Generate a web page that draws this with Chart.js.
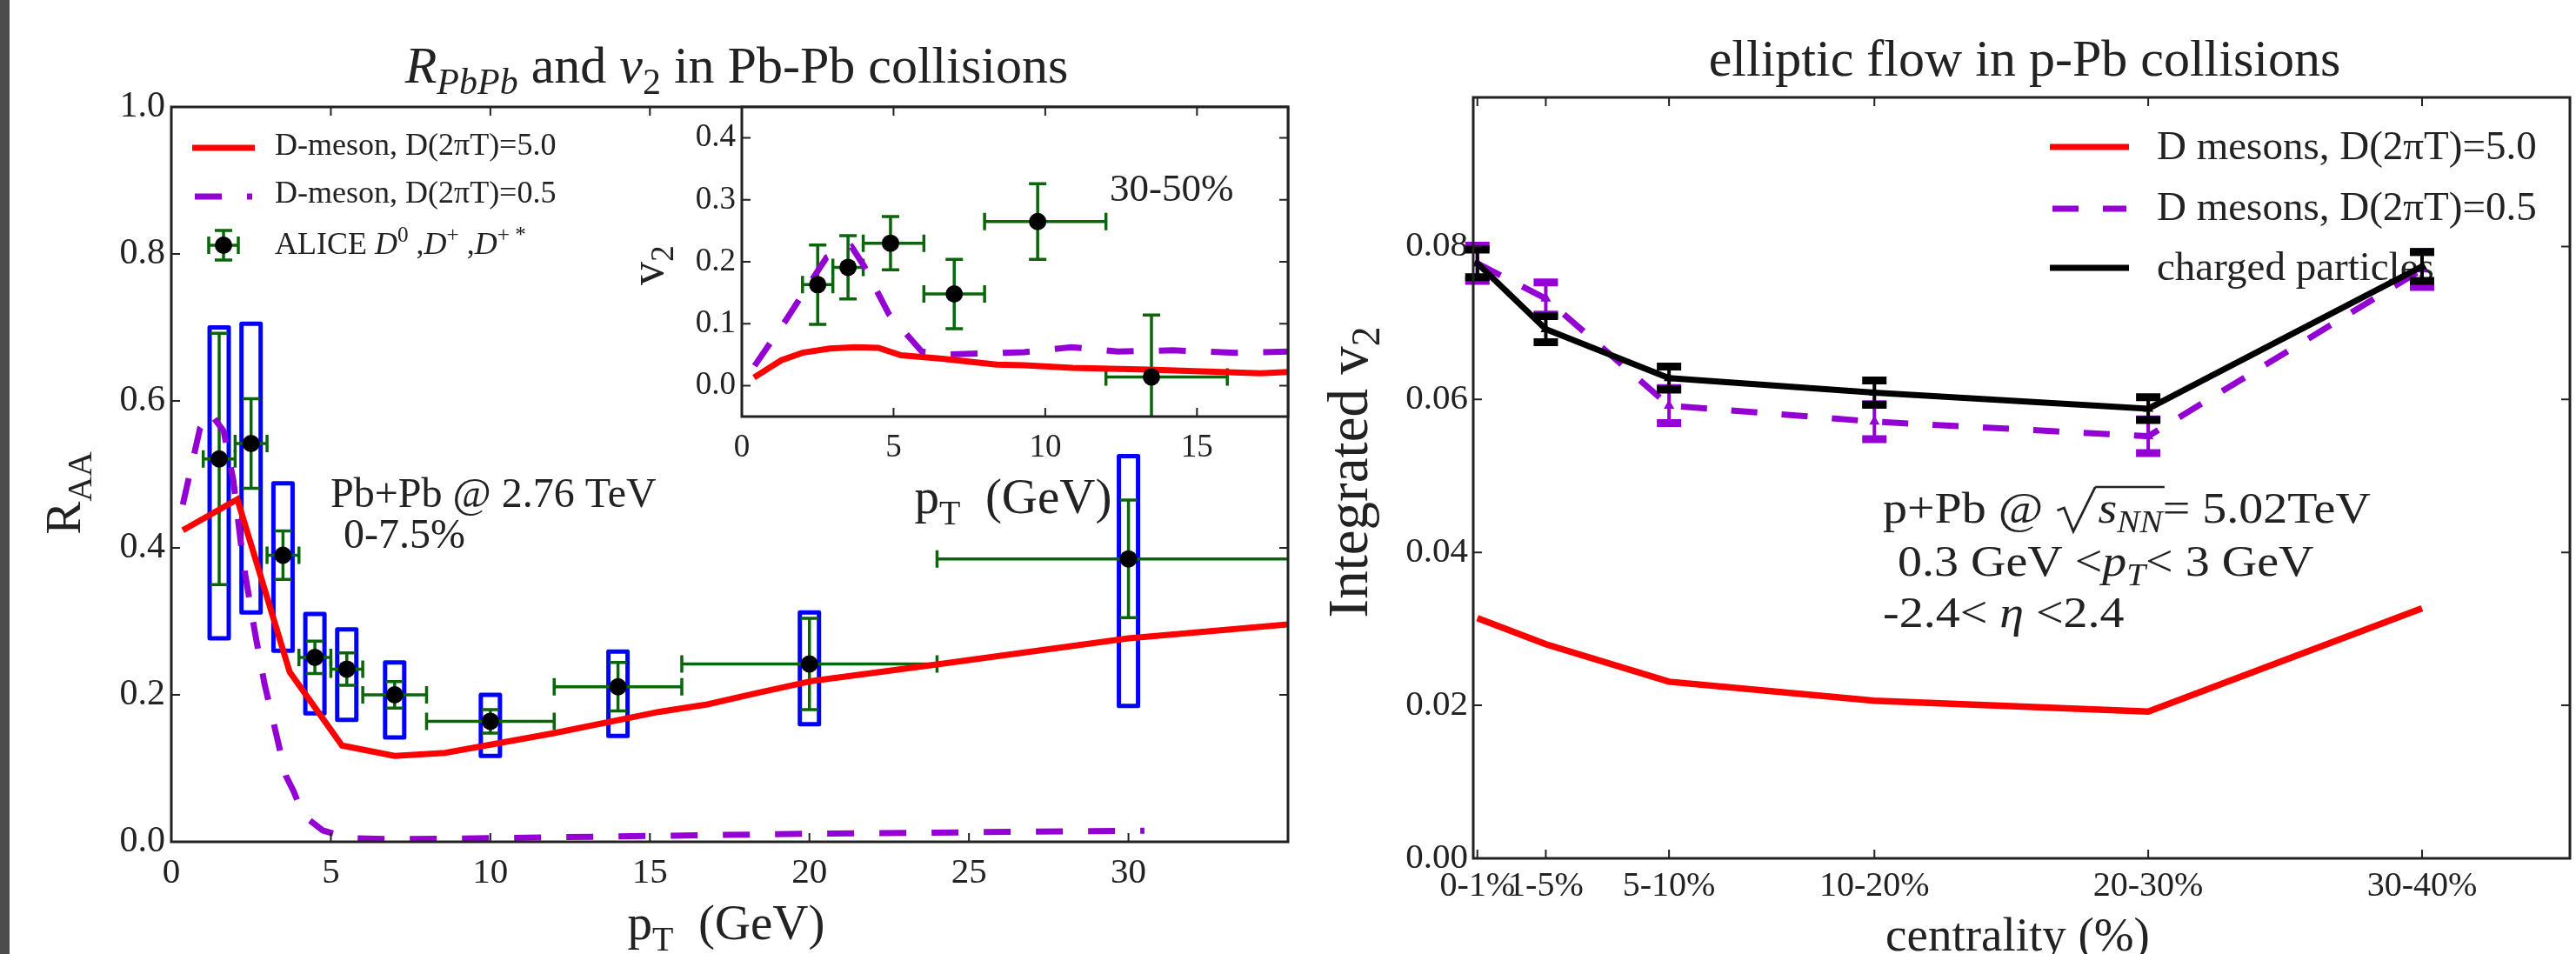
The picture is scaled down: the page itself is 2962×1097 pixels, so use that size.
<!DOCTYPE html>
<html>
<head>
<meta charset="utf-8">
<script src="https://cdn.jsdelivr.net/npm/chart.js@4.4.0/dist/chart.umd.min.js"></script>
<style>
  body { margin: 0; background: #fff; width: 2962px; height: 1097px; overflow: hidden; position: relative; }
  #edge { position: absolute; left: 0; top: 0; width: 11px; height: 1097px; background: #4b4b4e; }
  canvas { position: absolute; }
</style>
</head>
<body>
<div id="edge"></div>
<canvas id="raa" width="1540" height="1097" style="left:0px;top:0px"></canvas>
<canvas id="v2in" width="800" height="620" style="left:700px;top:0px"></canvas>
<canvas id="ppb" width="1462" height="1097" style="left:1500px;top:0px"></canvas>
<script>
// ---- left panel: R_AA in Pb-Pb, 0-7.5% ----
var raaTicksX = [0, 5, 10, 15, 20, 25, 30];
var raaTicksY = [0, 0.2, 0.4, 0.6, 0.8, 1.0];
var raaD5x = [0.36, 2.07, 3.71, 5.35, 7.0, 8.58, 12.0, 15.3, 16.8, 18.3, 20.1, 24.0, 26.8, 30.0, 33.2, 35.0];
var raaD5y = [0.424, 0.466, 0.231, 0.131, 0.117, 0.121, 0.148, 0.177, 0.187, 0.202, 0.219, 0.2415, 0.258, 0.277, 0.289, 0.296];
var raaD05x = [0.36, 0.9, 1.21, 1.64, 1.94, 2.25, 2.62, 2.92, 3.28, 3.59, 3.83, 4.14, 4.75, 5.6, 7.0, 10, 15, 20, 25, 30.5];
var raaD05y = [0.459, 0.563, 0.584, 0.559, 0.493, 0.381, 0.285, 0.215, 0.148, 0.090, 0.069, 0.036, 0.0154, 0.005, 0.0035, 0.005, 0.008, 0.011, 0.013, 0.015];
var aliceRaaPt = [1.5, 2.5, 3.5, 4.5, 5.5, 7, 10, 14, 20, 30];
var aliceRaaLo = [1, 2, 3, 4, 5, 6, 8, 12, 16, 24];
var aliceRaaHi = [2, 3, 4, 5, 6, 8, 12, 16, 24, 36];
var aliceRaa = [0.521, 0.542, 0.390, 0.251, 0.235, 0.200, 0.164, 0.211, 0.242, 0.385];
var aliceRaaStat = [0.171, 0.061, 0.033, 0.022, 0.022, 0.018, 0.016, 0.033, 0.062, 0.080];
var aliceRaaSysHi = [0.700, 0.705, 0.488, 0.310, 0.289, 0.244, 0.200, 0.259, 0.312, 0.525];
var aliceRaaSysLo = [0.277, 0.312, 0.260, 0.175, 0.166, 0.142, 0.117, 0.144, 0.160, 0.185];

// ---- inset: v2 in Pb-Pb, 30-50% ----
var v2TicksX = [0, 5, 10, 15];
var v2TicksY = [0, 0.1, 0.2, 0.3, 0.4];
var v2D5x = [0.4, 1.3, 2.0, 2.9, 3.75, 4.5, 5.25, 6.6, 8.4, 9.3, 10.9, 13.4, 17.1, 18];
var v2D5y = [0.013, 0.041, 0.053, 0.060, 0.062, 0.061, 0.049, 0.0435, 0.034, 0.033, 0.0285, 0.026, 0.020, 0.022];
var v2D05x = [0.42, 1.43, 2.79, 3.62, 4.03, 4.84, 5.93, 6.88, 9.3, 10.86, 12.4, 14.2, 16.3, 18];
var v2D05y = [0.032, 0.104, 0.207, 0.224, 0.193, 0.116, 0.055, 0.0505, 0.054, 0.062, 0.055, 0.057, 0.053, 0.055];
var aliceV2Pt = [2.5, 3.5, 4.9, 7, 9.75, 13.5];
var aliceV2Lo = [2, 3, 4, 6, 8, 12];
var aliceV2Hi = [3, 4, 6, 8, 12, 16];
var aliceV2 = [0.163, 0.191, 0.230, 0.148, 0.265, 0.014];
var aliceV2Err = [0.064, 0.051, 0.043, 0.056, 0.061, 0.100];

// ---- right panel: integrated v2 in p-Pb ----
var centLabels = ['0-1%', '1-5%', '5-10%', '10-20%', '20-30%', '30-40%'];
var centPos = [0.5, 3, 7.5, 15, 25, 35];
var ppbTicksY = [0, 0.02, 0.04, 0.06, 0.08];
var ppbD5 = [0.0314, 0.0280, 0.0231, 0.0206, 0.0192, 0.0327];
var ppbD05 = [0.0778, 0.0732, 0.0592, 0.0571, 0.0552, 0.0770];
var ppbD05Err = [0.0023, 0.0021, 0.0023, 0.0023, 0.0022, 0.0023];
var ppbCh = [0.0778, 0.0692, 0.0628, 0.0609, 0.0588, 0.0774];
var ppbChErr = [0.0018, 0.0017, 0.0015, 0.0016, 0.0015, 0.0019];

var FONT = '"Liberation Serif", "Times New Roman", serif';
var INK = '#222222';
var RED = '#ff0000', PURPLE = '#9400d3', GREEN = '#0b650b', BLUE = '#0000ff';
var CAP = 10, BOX_HALF = 11;

Chart.defaults.font.family = FONT;
Chart.defaults.color = INK;

function pts(xs, ys) {
  return xs.map(function (x, i) { return { x: x, y: ys[i] }; });
}

// text with italics, sub- and superscripts, and a drawn radical ({rad: width})
function rich(ctx, x, y, parts, size, align) {
  var segs = [], w = 0;
  parts.forEach(function (p) {
    var s = (p.sub || p.sup) ? size * 0.7 : size;
    var font = (p.it ? 'italic ' : '') + s + 'px ' + FONT;
    ctx.font = font;
    var m = p.rad ? p.rad : ctx.measureText(p.t).width;
    segs.push({ t: p.t, rad: p.rad, font: font, m: m, dy: p.sub ? size * 0.22 : (p.sup ? -size * 0.4 : 0), over: p.over });
    w += m;
  });
  var cx = align === 'center' ? x - w / 2 : (align === 'right' ? x - w : x);
  ctx.textAlign = 'left';
  ctx.textBaseline = 'alphabetic';
  ctx.fillStyle = INK;
  ctx.strokeStyle = INK;
  var ox0 = null, ox1 = null;
  segs.forEach(function (s) {
    if (s.rad) {
      ctx.lineWidth = 2.5;
      ctx.lineJoin = 'miter';
      ctx.beginPath();
      ctx.moveTo(cx + 2, y - size * 0.28);
      ctx.lineTo(cx + 9, y - size * 0.34);
      ctx.lineTo(cx + s.m * 0.42, y + size * 0.2);
      ctx.lineTo(cx + s.m - 3, y - size * 0.82);
      ctx.stroke();
      ox0 = cx + s.m - 3;
    } else {
      ctx.font = s.font;
      ctx.fillText(s.t, cx, y + s.dy);
      if (s.over) { if (ox0 === null) ox0 = cx; ox1 = cx + s.m; }
    }
    cx += s.m;
  });
  if (ox0 !== null && ox1 !== null) {
    ctx.lineWidth = 2.5;
    ctx.beginPath();
    ctx.moveTo(ox0, y - size * 0.82);
    ctx.lineTo(ox1 + 2, y - size * 0.82);
    ctx.stroke();
  }
  return w;
}

function richUp(ctx, x, y, parts, size) {
  ctx.save();
  ctx.translate(x, y);
  ctx.rotate(-Math.PI / 2);
  rich(ctx, 0, 0, parts, size, 'center');
  ctx.restore();
}

// wider, TeX-like setting for the annotation block
function richWide(ctx, x, y, parts, size, sx) {
  ctx.save();
  ctx.translate(x, 0);
  ctx.scale(sx, 1);
  rich(ctx, 0, y, parts, size, 'left');
  ctx.restore();
}

function frame(chart, tickLen) {
  var ctx = chart.ctx, a = chart.chartArea, x = chart.scales.x, y = chart.scales.y;
  ctx.save();
  ctx.strokeStyle = INK;
  ctx.lineWidth = 2;
  ctx.beginPath();
  x.ticks.forEach(function (t) {
    var p = x.getPixelForValue(t.value);
    ctx.moveTo(p, a.bottom); ctx.lineTo(p, a.bottom - tickLen);
    ctx.moveTo(p, a.top); ctx.lineTo(p, a.top + tickLen);
  });
  y.ticks.forEach(function (t) {
    var p = y.getPixelForValue(t.value);
    ctx.moveTo(a.left, p); ctx.lineTo(a.left + tickLen, p);
    ctx.moveTo(a.right, p); ctx.lineTo(a.right - tickLen, p);
  });
  ctx.stroke();
  ctx.lineWidth = 3;
  ctx.strokeRect(a.left, a.top, a.right - a.left, a.bottom - a.top);
  ctx.restore();
}

function errorBars(ctx, xs, ys, px, py, xlo, xhi, err, color) {
  ctx.strokeStyle = color;
  ctx.lineWidth = 3.5;
  ctx.lineCap = 'butt';
  px.forEach(function (v, i) {
    var cx = xs.getPixelForValue(v), cy = ys.getPixelForValue(py[i]);
    var x0 = xs.getPixelForValue(xlo[i]), x1 = xs.getPixelForValue(xhi[i]);
    var y0 = ys.getPixelForValue(py[i] + err[i]), y1 = ys.getPixelForValue(py[i] - err[i]);
    ctx.beginPath();
    ctx.moveTo(x0, cy); ctx.lineTo(x1, cy);
    ctx.moveTo(cx, y0); ctx.lineTo(cx, y1);
    ctx.moveTo(x0, cy - CAP); ctx.lineTo(x0, cy + CAP);
    ctx.moveTo(x1, cy - CAP); ctx.lineTo(x1, cy + CAP);
    ctx.moveTo(cx - CAP, y0); ctx.lineTo(cx + CAP, y0);
    ctx.moveTo(cx - CAP, y1); ctx.lineTo(cx + CAP, y1);
    ctx.stroke();
  });
}

function clipArea(ctx, a) {
  ctx.beginPath();
  ctx.rect(a.left, a.top, a.right - a.left, a.bottom - a.top);
  ctx.clip();
}

function axisOpts(min, max, ticks, size, pad, fmt, fit) {
  return {
    type: 'linear', min: min, max: max,
    grid: { display: false, drawTicks: false },
    border: { display: false },
    afterBuildTicks: function (s) { s.ticks = ticks.map(function (v) { return { value: v }; }); },
    afterFit: fit,
    ticks: { padding: pad, font: { family: FONT, size: size }, color: INK, autoSkip: false, maxRotation: 0, minRotation: 0, callback: fmt }
  };
}

// ---------- left main chart ----------
var raaDecor = {
  id: 'raaDecor',
  beforeDatasetsDraw: function (chart) {
    var ctx = chart.ctx, a = chart.chartArea, x = chart.scales.x, y = chart.scales.y;
    ctx.save();
    clipArea(ctx, a);
    ctx.strokeStyle = BLUE;
    ctx.lineWidth = 5;
    ctx.lineJoin = 'round';
    aliceRaaPt.forEach(function (pt, i) {
      var cx = x.getPixelForValue(pt);
      var top = y.getPixelForValue(aliceRaaSysHi[i]), bot = y.getPixelForValue(aliceRaaSysLo[i]);
      ctx.strokeRect(cx - BOX_HALF, top, 2 * BOX_HALF, bot - top);
    });
    errorBars(ctx, x, y, aliceRaaPt, aliceRaa, aliceRaaLo, aliceRaaHi, aliceRaaStat, GREEN);
    ctx.restore();
  },
  afterDatasetsDraw: function (chart) {
    var ctx = chart.ctx;
    frame(chart, 10);
    ctx.save();
    // title
    rich(ctx, 847, 95, [{ t: 'R', it: true }, { t: 'PbPb', it: true, sub: true }, { t: ' and ' },
      { t: 'v', it: true }, { t: '2', sub: true }, { t: ' in Pb-Pb collisions' }], 60, 'center');
    // axis titles
    rich(ctx, 835, 1080, [{ t: 'p' }, { t: 'T', sub: true }, { t: '  (GeV)' }], 57, 'center');
    richUp(ctx, 92, 567, [{ t: 'R' }, { t: 'AA', sub: true }], 57);
    // annotation
    rich(ctx, 380, 583, [{ t: 'Pb+Pb @ 2.76 TeV' }], 48, 'left');
    rich(ctx, 395, 630, [{ t: '0-7.5%' }], 48, 'left');
    // legend
    ctx.lineCap = 'butt';
    ctx.lineWidth = 7;
    ctx.strokeStyle = RED;
    ctx.beginPath(); ctx.moveTo(221, 170); ctx.lineTo(293, 170); ctx.stroke();
    ctx.strokeStyle = PURPLE;
    ctx.setLineDash([31, 29]);
    ctx.beginPath(); ctx.moveTo(224, 226); ctx.lineTo(290, 226); ctx.stroke();
    ctx.setLineDash([]);
    ctx.strokeStyle = GREEN;
    ctx.lineWidth = 3.5;
    ctx.beginPath();
    ctx.moveTo(240, 282); ctx.lineTo(274, 282);
    ctx.moveTo(257, 265); ctx.lineTo(257, 299);
    ctx.moveTo(240, 272); ctx.lineTo(240, 292);
    ctx.moveTo(274, 272); ctx.lineTo(274, 292);
    ctx.moveTo(247, 265); ctx.lineTo(267, 265);
    ctx.moveTo(247, 299); ctx.lineTo(267, 299);
    ctx.stroke();
    ctx.fillStyle = '#000';
    ctx.beginPath(); ctx.arc(257, 282, 10, 0, Math.PI * 2); ctx.fill();
    rich(ctx, 316, 178, [{ t: 'D-meson, D(2πT)=5.0' }], 36, 'left');
    rich(ctx, 316, 233, [{ t: 'D-meson, D(2πT)=0.5' }], 36, 'left');
    rich(ctx, 316, 292, [{ t: 'ALICE ' }, { t: 'D', it: true }, { t: '0', sup: true }, { t: ' ,' },
      { t: 'D', it: true }, { t: '+', sup: true }, { t: ' ,' }, { t: 'D', it: true }, { t: '+ *', sup: true }], 36, 'left');
    ctx.restore();
  }
};

new Chart(document.getElementById('raa'), {
  type: 'line',
  data: {
    datasets: [
      { type: 'scatter', data: pts(aliceRaaPt, aliceRaa), pointRadius: 10, pointBackgroundColor: '#000', pointBorderWidth: 0, order: 0 },
      { data: pts(raaD5x, raaD5y), borderColor: RED, borderWidth: 7, pointRadius: 0, order: 1 },
      { data: pts(raaD05x, raaD05y), borderColor: PURPLE, borderWidth: 7, borderDash: [31, 29], pointRadius: 0, order: 2 }
    ]
  },
  options: {
    responsive: false, animation: false, events: [],
    layout: { padding: { left: 0, top: 123, right: 59, bottom: 0 } },
    plugins: { legend: { display: false }, tooltip: { enabled: false } },
    scales: {
      x: axisOpts(0, 35, raaTicksX, 41, 12, function (v) { return String(v); }, function (s) { s.height = 129; }),
      y: axisOpts(0, 1, raaTicksY, 42, 7, function (v) { return v.toFixed(1); }, function (s) { s.width = 197; })
    }
  },
  plugins: [raaDecor]
});

// ---------- inset chart ----------
var v2Decor = {
  id: 'v2Decor',
  beforeDraw: function (chart) {
    var ctx = chart.ctx, a = chart.chartArea;
    ctx.save();
    ctx.fillStyle = '#fff';
    ctx.fillRect(a.left, a.top, a.right - a.left, a.bottom - a.top);
    ctx.restore();
  },
  beforeDatasetsDraw: function (chart) {
    var ctx = chart.ctx;
    ctx.save();
    clipArea(ctx, chart.chartArea);
    errorBars(ctx, chart.scales.x, chart.scales.y, aliceV2Pt, aliceV2, aliceV2Lo, aliceV2Hi, aliceV2Err, GREEN);
    ctx.restore();
  },
  afterDatasetsDraw: function (chart) {
    var ctx = chart.ctx;
    frame(chart, 10);
    ctx.save();
    rich(ctx, 576, 231, [{ t: '30-50%' }], 45, 'left');
    rich(ctx, 465, 590, [{ t: 'p' }, { t: 'T', sub: true }, { t: '  (GeV)' }], 57, 'center');
    richUp(ctx, 62, 305, [{ t: 'v' }, { t: '2', sub: true }], 54);
    ctx.restore();
  }
};

new Chart(document.getElementById('v2in'), {
  type: 'line',
  data: {
    datasets: [
      { type: 'scatter', data: pts(aliceV2Pt, aliceV2), pointRadius: 10, pointBackgroundColor: '#000', pointBorderWidth: 0, order: 0 },
      { data: pts(v2D5x, v2D5y), borderColor: RED, borderWidth: 7, pointRadius: 0, order: 1 },
      { data: pts(v2D05x, v2D05y), borderColor: PURPLE, borderWidth: 7, borderDash: [31, 29], pointRadius: 0, order: 2 }
    ]
  },
  options: {
    responsive: false, animation: false, events: [],
    layout: { padding: { left: 0, top: 123, right: 19, bottom: 0 } },
    plugins: { legend: { display: false }, tooltip: { enabled: false } },
    scales: {
      x: axisOpts(0, 18, v2TicksX, 37, 14, function (v) { return String(v); }, function (s) { s.height = 141; }),
      y: axisOpts(-0.05, 0.45, v2TicksY, 37, 7, function (v) { return v.toFixed(1); }, function (s) { s.width = 153; })
    }
  },
  plugins: [v2Decor]
});

// ---------- right chart ----------
var ppbDecor = {
  id: 'ppbDecor',
  beforeDatasetsDraw: function (chart) {
    var ctx = chart.ctx;
    ctx.save();
    ctx.lineCap = 'butt';
    ctx.lineWidth = 7;
    ctx.strokeStyle = RED;
    ctx.beginPath(); ctx.moveTo(857, 169); ctx.lineTo(948, 169); ctx.stroke();
    ctx.strokeStyle = PURPLE;
    ctx.setLineDash([30, 28]);
    ctx.beginPath(); ctx.moveTo(860, 240); ctx.lineTo(945, 240); ctx.stroke();
    ctx.setLineDash([]);
    ctx.strokeStyle = '#000';
    ctx.beginPath(); ctx.moveTo(857, 308); ctx.lineTo(948, 308); ctx.stroke();
    rich(ctx, 980, 183, [{ t: 'D mesons, D(2πT)=5.0' }], 47, 'left');
    rich(ctx, 980, 253, [{ t: 'D mesons, D(2πT)=0.5' }], 47, 'left');
    rich(ctx, 980, 322, [{ t: 'charged particles' }], 47, 'left');
    // annotation
    richWide(ctx, 665, 601, [{ t: 'p+Pb @ ' }, { rad: 44 }, { t: 's', it: true, over: true },
      { t: 'NN', it: true, sub: true, over: true }, { t: '= 5.02TeV' }], 50, 1.12);
    richWide(ctx, 682, 662, [{ t: '0.3 GeV <' }, { t: 'p', it: true }, { t: 'T', it: true, sub: true }, { t: '< 3 GeV' }], 50, 1.12);
    richWide(ctx, 665, 721, [{ t: '-2.4< ' }, { t: 'η', it: true }, { t: ' <2.4' }], 50, 1.12);
    ctx.restore();
  },
  afterDatasetsDraw: function (chart) {
    var ctx = chart.ctx, x = chart.scales.x, y = chart.scales.y;
    ctx.save();
    [[ppbD05, ppbD05Err, PURPLE], [ppbCh, ppbChErr, '#000']].forEach(function (s) {
      ctx.strokeStyle = s[2];
      centPos.forEach(function (c, i) {
        var cx = x.getPixelForValue(c);
        var y0 = y.getPixelForValue(s[0][i] + s[1][i]), y1 = y.getPixelForValue(s[0][i] - s[1][i]);
        ctx.lineWidth = 4;
        ctx.beginPath(); ctx.moveTo(cx, y0); ctx.lineTo(cx, y1); ctx.stroke();
        ctx.lineWidth = 9;
        ctx.beginPath();
        ctx.moveTo(cx - 14, y0); ctx.lineTo(cx + 14, y0);
        ctx.moveTo(cx - 14, y1); ctx.lineTo(cx + 14, y1);
        ctx.stroke();
      });
    });
    ctx.restore();
    frame(chart, 10);
    ctx.save();
    rich(ctx, 828, 87, [{ t: 'elliptic flow in p-Pb collisions' }], 60, 'center');
    rich(ctx, 820, 1093, [{ t: 'centrality (%)' }], 55, 'center');
    richUp(ctx, 72, 543, [{ t: 'Integrated v' }, { t: '2', sub: true }], 65);
    ctx.restore();
  }
};

new Chart(document.getElementById('ppb'), {
  type: 'line',
  data: {
    datasets: [
      { data: pts(centPos, ppbCh), borderColor: '#000', borderWidth: 7, pointStyle: 'triangle', pointRadius: 7,
        pointBackgroundColor: '#000', pointBorderWidth: 0, order: 0 },
      { data: pts(centPos, ppbD05), borderColor: PURPLE, borderWidth: 7, borderDash: [30, 28], pointStyle: 'triangle', pointRadius: 7,
        pointBackgroundColor: PURPLE, pointBorderWidth: 0, order: 1 },
      { data: pts(centPos, ppbD5), borderColor: RED, borderWidth: 7.5, pointRadius: 0, order: 2 }
    ]
  },
  options: {
    responsive: false, animation: false, events: [],
    layout: { padding: { left: 0, top: 112, right: 7, bottom: 0 } },
    plugins: { legend: { display: false }, tooltip: { enabled: false } },
    scales: {
      x: axisOpts(0.35, 40.4, centPos, 40, 8, function (v) { return centLabels[centPos.indexOf(v)]; }, function (s) { s.height = 110; }),
      y: axisOpts(0, 0.0995, ppbTicksY, 41, 6, function (v) { return v.toFixed(2); }, function (s) { s.width = 194; })
    }
  },
  plugins: [ppbDecor]
});
</script>
</body>
</html>
